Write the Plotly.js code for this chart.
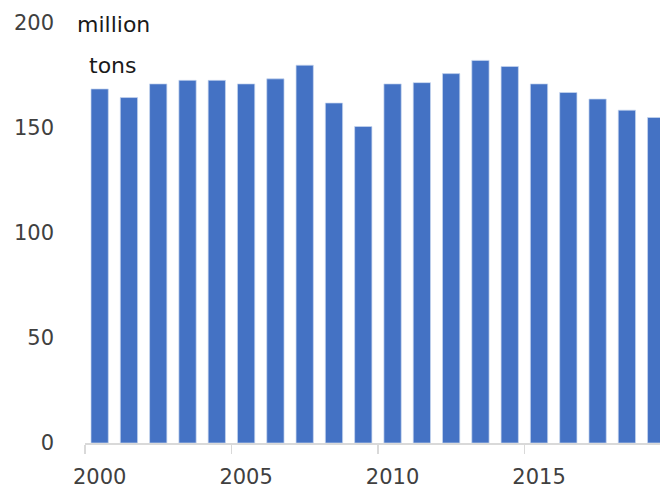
<!DOCTYPE html>
<html>
<head>
<meta charset="utf-8">
<script src="https://cdn.plot.ly/plotly-3.0.1.min.js"></script>
<style>html,body{margin:0;padding:0;background:#fff;}#chart{width:660px;height:490px;}</style>
</head>
<body>
<div id="chart"></div>
<script>
var years = [2000,2001,2002,2003,2004,2005,2006,2007,2008,2009,2010,2011,2012,2013,2014,2015,2016,2017,2018,2019];
var values = [168.6,164.5,171.0,172.7,172.7,171.0,173.4,179.9,161.9,150.7,171.0,171.6,175.9,182.2,179.3,171.0,166.9,163.8,158.5,155.0];
var xTickVals = [2000,2005,2010,2015];
var xTickText = ['2000','2005','2010','2015'];
var xBoundaryTicks = [1999.5,2004.5,2009.5,2014.5,2019.5];
var yTickVals = [0,50,100,150,200];
var unitLines = ['million','tons'];

var trace = {
  type: 'bar',
  x: years,
  y: values,
  marker: {color: '#4472C4', line: {color: 'rgba(200,215,240,0.7)', width: 1}},
  hoverinfo: 'x+y'
};

var layout = {
  width: 660, height: 490,
  margin: {l: 85, r: 0, t: 23, b: 47, pad: 0},
  paper_bgcolor: '#ffffff', plot_bgcolor: '#ffffff',
  showlegend: false,
  bargap: 0.41,
  font: {family: 'DejaVu Sans, sans-serif', size: 21, color: '#404040'},
  xaxis: {
    type: 'linear',
    range: [1999.5, 2019.13],
    tickmode: 'array', tickvals: xTickVals, ticktext: xTickText,
    ticks: '', showgrid: false, zeroline: false,
    showline: true, linecolor: '#d9d9d9', linewidth: 1.5,
    ticklabelstandoff: 14,
    tickfont: {size: 21, color: '#404040'},
    minor: {tickmode: 'array', tickvals: xBoundaryTicks, ticks: 'outside', ticklen: 9, tickcolor: '#d9d9d9', tickwidth: 1.5, showgrid: false}
  },
  yaxis: {
    range: [0, 200],
    tickmode: 'array', tickvals: yTickVals,
    ticks: '', showgrid: false, zeroline: false, showline: false,
    ticklabelstandoff: 30,
    tickfont: {size: 21, color: '#404040'}
  },
  annotations: [
    {text: unitLines[0], xref: 'paper', yref: 'paper', x: 0.0487, y: 0.996, xanchor: 'center', yanchor: 'middle', showarrow: false, font: {size: 22, color: '#1a1a1a'}},
    {text: unitLines[1], xref: 'paper', yref: 'paper', x: 0.0487, y: 0.898, xanchor: 'center', yanchor: 'middle', showarrow: false, font: {size: 22, color: '#1a1a1a'}}
  ]
};

Plotly.newPlot('chart', [trace], layout, {displayModeBar: false, staticPlot: true});
</script>
</body>
</html>
